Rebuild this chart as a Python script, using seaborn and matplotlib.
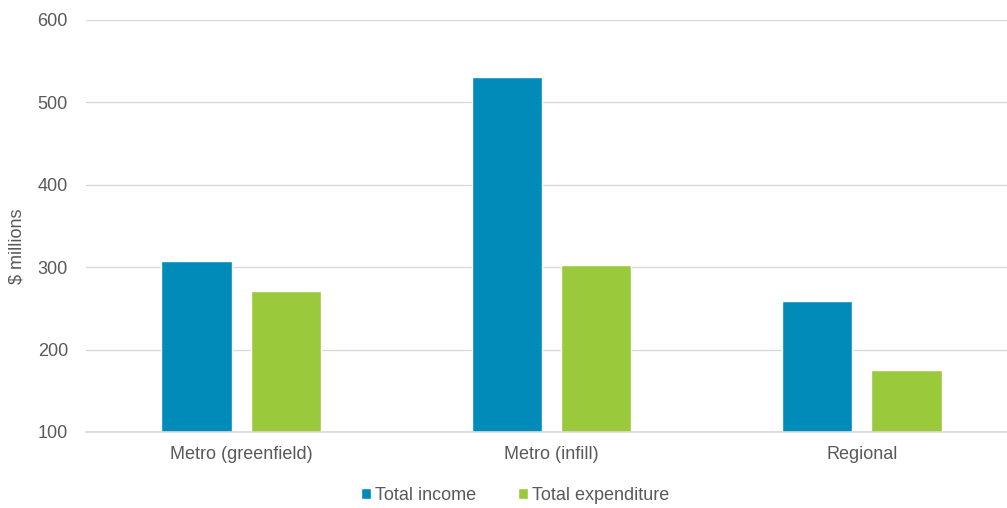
import matplotlib
matplotlib.use("Agg")
import matplotlib.pyplot as plt
import seaborn as sns
import pandas as pd
from matplotlib.patches import Patch

categories = ["Metro (greenfield)", "Metro (infill)", "Regional"]
income = [308, 531, 259]
expenditure = [271, 303, 175]
series = ["Total income", "Total expenditure"]
colors = ["#008BB9", "#9BC93C"]

df = pd.DataFrame({
    "category": categories * 2,
    "series": [series[0]] * 3 + [series[1]] * 3,
    "value": income + expenditure,
})

sns.set_theme(style="white")
plt.rcParams["font.family"] = ["Liberation Sans", "DejaVu Sans"]

fig = plt.figure(figsize=(10.07, 5.08), dpi=100)
ax = fig.add_axes([86 / 1007, 76 / 508, (1017 - 86) / 1007, (432 - 20) / 508])

sns.barplot(data=df, x="category", y="value", hue="series", palette=colors,
            width=0.576, gap=0.21, ax=ax, legend=False, saturation=1)

fs = 13
ax.set_ylim(100, 600)
ax.set_yticks([100, 200, 300, 400, 500, 600])
ax.set_xlim(-0.5, 2.5)
ax.yaxis.grid(True, color="#D9D9D9", linewidth=1)
ax.set_axisbelow(True)
for s in ["left", "right", "top"]:
    ax.spines[s].set_visible(False)
ax.spines["bottom"].set_color("#D9D9D9")
ax.tick_params(axis="both", length=0, labelsize=fs, labelcolor="#595959")
ax.tick_params(axis="y", pad=13)
ax.tick_params(axis="x", pad=10)
ax.set_xlabel("")
ax.set_ylabel(r"\$ millions", fontsize=fs, color="#595959", labelpad=9)
ax.yaxis.label.set_y((432 - 246) / 412)

handles = [Patch(facecolor=c, label=l) for c, l in zip(colors, series)]
fig.legend(handles=handles, loc="center", bbox_to_anchor=(515 / 1007, 1 - 495 / 508),
           ncol=2, frameon=False, fontsize=fs, handlelength=0.55, handleheight=0.55,
           handletextpad=0.25, columnspacing=2.3, labelcolor="#595959")

fig.savefig("out.png", dpi=100)
